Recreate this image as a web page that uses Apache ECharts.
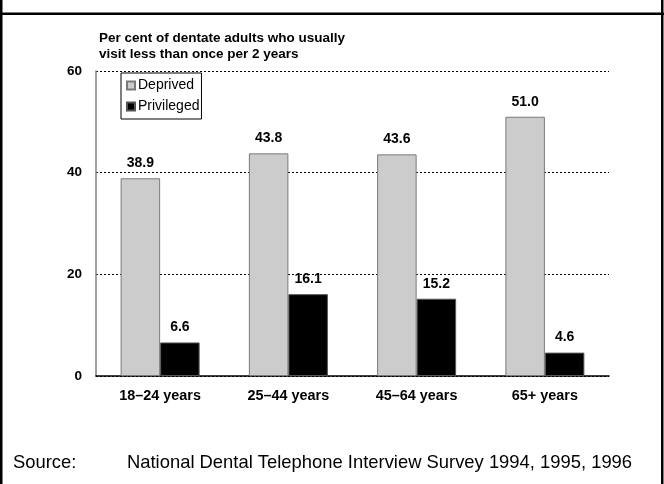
<!DOCTYPE html>
<html>
<head>
<meta charset="utf-8">
<script src="https://cdn.jsdelivr.net/npm/echarts@6/dist/echarts.min.js"></script>
<style>
  html, body { margin: 0; padding: 0; background: #fff; }
  #chart { width: 664px; height: 484px; }
</style>
</head>
<body>
<div id="chart"></div>
<script>
// Age groups along the x axis
const categories = ['18–24 years', '25–44 years', '45–64 years', '65+ years'];
// Per cent of dentate adults who usually visit less than once per 2 years
const deprived = [38.9, 43.8, 43.6, 51.0];
const privileged = [6.6, 16.1, 15.2, 4.6];
// Y axis range
const yTicks = [0, 20, 40, 60];

const FONT = '"Liberation Sans", Arial, sans-serif';

const chart = echarts.init(document.getElementById('chart'), null, { renderer: 'canvas' });

const valueLabel = {
  show: true,
  position: 'top',
  distance: 8,
  color: '#000',
  fontFamily: FONT,
  fontWeight: 'bold',
  fontSize: 14,
  formatter: p => p.value.toFixed(1)
};

chart.setOption({
  animation: false,
  backgroundColor: '#fff',
  title: {
    text: 'Per cent of dentate adults who usually\nvisit less than once per 2 years',
    left: 99,
    top: 30,
    padding: 0,
    textStyle: {
      fontFamily: FONT,
      fontWeight: 'bold',
      fontSize: 13.5,
      lineHeight: 16,
      color: '#000'
    }
  },
  legend: {
    orient: 'vertical',
    left: 121,
    top: 73,
    padding: [5, 2, 5, 5],
    itemGap: 6,
    itemWidth: 8,
    itemHeight: 8,
    borderColor: '#000',
    borderWidth: 1,
    icon: 'rect',
    textStyle: {
      fontFamily: FONT,
      fontSize: 14,
      lineHeight: 14,
      color: '#000',
      padding: [1, 0, 0, -2]
    },
    data: ['Deprived', 'Privileged']
  },
  grid: {
    left: 96,
    right: 55,
    top: 71,
    bottom: 108
  },
  xAxis: {
    type: 'category',
    data: categories,
    axisLine: { lineStyle: { color: '#000', width: 1.5 } },
    axisTick: { show: false },
    axisLabel: {
      margin: 13,
      color: '#000',
      fontFamily: FONT,
      fontWeight: 'bold',
      fontSize: 14.4
    }
  },
  yAxis: {
    type: 'value',
    min: yTicks[0],
    max: yTicks[yTicks.length - 1],
    interval: yTicks[1] - yTicks[0],
    axisLine: { show: true, lineStyle: { color: '#808080', width: 1.5 } },
    axisTick: { show: false },
    axisLabel: {
      margin: 14,
      color: '#000',
      fontFamily: FONT,
      fontWeight: 'bold',
      fontSize: 13.5
    },
    splitLine: {
      lineStyle: { color: '#000', type: [2, 2], width: 1 }
    }
  },
  series: [
    {
      name: 'Deprived',
      type: 'bar',
      data: deprived,
      barGap: '0%',
      barCategoryGap: '38.4%',
      itemStyle: { color: '#cccccc', borderColor: '#7a7a7a', borderWidth: 1 },
      label: valueLabel
    },
    {
      name: 'Privileged',
      type: 'bar',
      data: privileged,
      barGap: '0%',
      barCategoryGap: '38.4%',
      itemStyle: { color: '#000000', borderColor: '#555555', borderWidth: 1 },
      label: valueLabel
    }
  ],
  graphic: [
    // frame around the figure
    { type: 'rect', left: 0, top: 0, shape: { width: 2.5, height: 484 }, style: { fill: '#000' } },
    { type: 'rect', left: 661, top: 0, shape: { width: 2.5, height: 484 }, style: { fill: '#000' } },
    { type: 'rect', left: 0, top: 12.5, shape: { width: 664, height: 2.5 }, style: { fill: '#000' } },
    // source note
    {
      type: 'text', left: 13, top: 454,
      style: { text: 'Source:', font: '18.4px ' + FONT, fill: '#000' }
    },
    {
      type: 'text', left: 127, top: 454,
      style: { text: 'National Dental Telephone Interview Survey 1994, 1995, 1996', font: '18.4px ' + FONT, fill: '#000' }
    }
  ]
});
</script>
</body>
</html>
